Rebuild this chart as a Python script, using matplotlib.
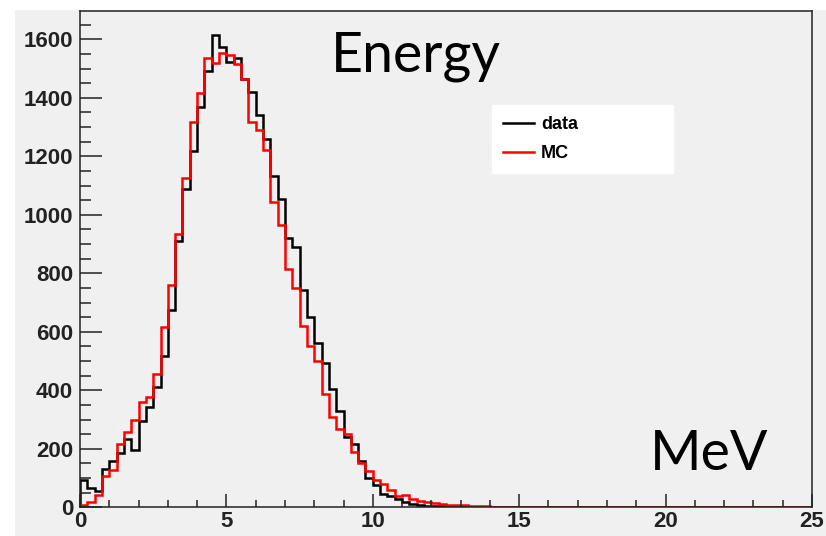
import numpy as np
import matplotlib.pyplot as plt
from matplotlib.patches import Rectangle
from matplotlib.ticker import MultipleLocator

# histogram binning: 100 bins of 0.25 MeV from 0 to 25
bin_edges = np.arange(0, 25.001, 0.25)

# measured energy spectrum (black)
data_counts = [
    93, 65, 55, 131, 159, 186, 233, 195, 295, 343,
    413, 519, 673, 910, 1088, 1218, 1370, 1491, 1616, 1575,
    1522, 1535, 1463, 1421, 1341, 1258, 1133, 1053, 920, 891,
    743, 652, 561, 492, 404, 329, 241, 215, 159, 101,
    76, 45, 38, 28, 18, 11, 7, 5, 5, 4,
    3, 2, 2, 1, 1, 1, 0, 1, 0, 0,
    1, 0, 0, 0, 0, 0, 1, 0, 0, 0,
    0, 0, 0, 0, 0, 0, 0, 0, 0, 0,
    0, 0, 0, 0, 0, 0, 0, 0, 0, 0,
    0, 0, 0, 0, 0, 0, 0, 0, 0, 0,
]

# simulated spectrum (red)
mc_counts = [
    8, 17, 42, 107, 127, 218, 258, 298, 360, 377,
    457, 618, 761, 935, 1125, 1316, 1417, 1536, 1518, 1552,
    1546, 1515, 1463, 1318, 1290, 1222, 1045, 965, 816, 751,
    620, 553, 501, 386, 310, 268, 251, 190, 150, 124,
    93, 78, 58, 40, 43, 30, 21, 18, 14, 12,
    9, 8, 7, 5, 4, 3, 2, 2, 1, 2,
    1, 1, 1, 2, 1, 1, 1, 1, 0, 1,
    1, 1, 0, 1, 1, 0, 1, 1, 1, 0,
    1, 1, 0, 1, 1, 1, 0, 1, 1, 1,
    1, 0, 1, 1, 0, 1, 1, 1, 1, 1,
]

x_ticks = [0, 5, 10, 15, 20, 25]
y_ticks = [0, 200, 400, 600, 800, 1000, 1200, 1400, 1600]

grey = '#f0f0f0'

fig = plt.figure(figsize=(8.26, 5.36), dpi=100, facecolor='white')
# ROOT canvas pad (grey) with a thin white margin top/left
fig.patches.append(Rectangle((15 / 826, 0), 1 - 15 / 826, 1 - 10 / 536,
                             transform=fig.transFigure, facecolor=grey,
                             edgecolor='none', zorder=-10))

ax = fig.add_axes([80 / 826, 1 - 507.3 / 536, (812 - 80) / 826, (507.3 - 11) / 536])
ax.set_zorder(1)
ax.set_facecolor(grey)

ax.stairs(data_counts, bin_edges, color='black', linewidth=1.8, label='data')
ax.stairs(mc_counts, bin_edges, color='red', linewidth=1.8, label='MC')

ax.set_xlim(0, 25)
ax.set_ylim(0, 1697)
ax.set_xticks(x_ticks)
ax.set_yticks(y_ticks)
ax.xaxis.set_minor_locator(MultipleLocator(1))
ax.yaxis.set_minor_locator(MultipleLocator(50))

for lab in ax.get_xticklabels() + ax.get_yticklabels():
    lab.set_fontfamily('Liberation Sans')
    lab.set_fontweight('bold')
    lab.set_fontsize(16)

ax.tick_params(axis='both', which='both', direction='in', colors='#222222',
               width=1.1, top=False, right=False)
ax.tick_params(axis='y', which='major', length=16, pad=5)
ax.tick_params(axis='y', which='minor', length=8)
ax.tick_params(axis='x', which='major', length=9.5, pad=3)
ax.tick_params(axis='x', which='minor', length=5)
for sp in ax.spines.values():
    sp.set_color('#222222')
    sp.set_linewidth(1.1)

# legend box spans roughly x 492..673, y 105..166 px
leg = ax.legend(loc='upper left',
                bbox_to_anchor=(492 / 826, 1 - 166 / 536, (673 - 492) / 826, (166 - 105) / 536),
                bbox_transform=fig.transFigure, mode='expand', borderaxespad=0,
                frameon=True, fancybox=False, facecolor='white', edgecolor='white',
                framealpha=1, handlelength=1.7, handletextpad=0.4, borderpad=0.6,
                labelspacing=0.7, prop={'family': 'Liberation Sans', 'weight': 'bold', 'size': 13})

fig.text(416 / 826, 1 - 72 / 536, 'Energy', family='Lato', fontsize=40,
         ha='center', va='baseline')
fig.text(709 / 826, 1 - 470 / 536, 'MeV', family='Lato', fontsize=40,
         ha='center', va='baseline')

fig.savefig('out.png', dpi=100, facecolor=fig.get_facecolor())
